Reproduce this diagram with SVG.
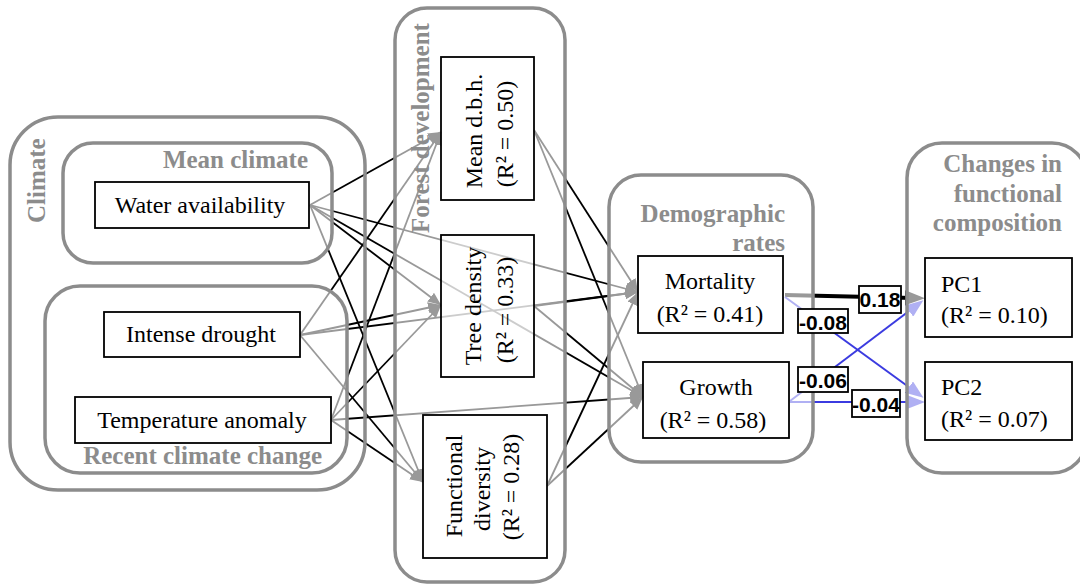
<svg xmlns="http://www.w3.org/2000/svg" width="1080" height="584" viewBox="0 0 1080 584">
<style>
.grp{fill:#fff;fill-opacity:.6;stroke:#8c8c8c;stroke-width:3.5}
.grpo{fill:none;stroke:#8c8c8c;stroke-width:3.5}
.node{fill:#fff;fill-opacity:.5;stroke:#000;stroke-width:1.8}
.lbl{fill:#fff;stroke:#000;stroke-width:1.8}
.t{font-family:"Liberation Serif","Times New Roman",serif;font-size:24px;fill:#000}
.gt{font-family:"Liberation Serif","Times New Roman",serif;font-size:25px;font-weight:bold;fill:#8c8c8c}
.et{font-family:"Liberation Sans",Arial,sans-serif;font-size:21px;font-weight:bold;fill:#000}
.e{stroke:#000;stroke-width:1.8;fill:none;marker-end:url(#ab)}
.eb{stroke:#3b3be0;stroke-width:2;fill:none;marker-end:url(#abl)}
.ek{stroke:#000;stroke-width:4;fill:none;marker-end:url(#ak)}
</style>
<defs>
<marker id="ab" markerUnits="userSpaceOnUse" markerWidth="13" markerHeight="11" refX="13" refY="5.5" orient="auto"><path d="M0,0 L13,5.5 L0,11 z" fill="#000"/></marker>
<marker id="abl" markerUnits="userSpaceOnUse" markerWidth="18" markerHeight="14" refX="10" refY="7" orient="auto"><path d="M0,0 L18,7 L0,14 z" fill="#3b3be0"/></marker>
<marker id="ak" markerUnits="userSpaceOnUse" markerWidth="20" markerHeight="15" refX="8" refY="7.5" orient="auto"><path d="M0,0 L20,7.5 L0,15 z" fill="#000"/></marker>
</defs>
<rect width="1080" height="584" fill="#fff"/>
<g id="connectors">
<line class="e" x1="310" y1="205" x2="441" y2="132"/>
<line class="e" x1="310" y1="205" x2="441" y2="305"/>
<line class="e" x1="310" y1="205" x2="423" y2="482"/>
<line class="e" x1="310" y1="205" x2="638" y2="292"/>
<line class="e" x1="310" y1="205" x2="643" y2="397"/>
<line class="e" x1="300" y1="335" x2="441" y2="132"/>
<line class="e" x1="300" y1="335" x2="441" y2="305"/>
<line class="e" x1="300" y1="335" x2="423" y2="482"/>
<line class="e" x1="300" y1="335" x2="638" y2="292"/>
<line class="e" x1="331" y1="420" x2="441" y2="132"/>
<line class="e" x1="331" y1="420" x2="441" y2="305"/>
<line class="e" x1="331" y1="420" x2="423" y2="482"/>
<line class="e" x1="331" y1="420" x2="643" y2="397"/>
<line class="e" x1="534" y1="130" x2="638" y2="292"/>
<line class="e" x1="534" y1="130" x2="643" y2="397"/>
<line class="e" x1="534" y1="306" x2="638" y2="292"/>
<line class="e" x1="534" y1="306" x2="643" y2="397"/>
<line class="e" x1="547" y1="486" x2="638" y2="292"/>
<line class="e" x1="547" y1="486" x2="643" y2="397"/>
<line class="ek" x1="785" y1="295" x2="913" y2="298"/>
<line class="eb" x1="785" y1="297" x2="917" y2="393"/>
<line class="eb" x1="790" y1="401" x2="917" y2="305"/>
<line class="eb" x1="790" y1="402" x2="917" y2="402"/>
</g>
<g id="climate">
<rect class="grpo" x="10" y="117" width="355" height="373" rx="48"/>
<text class="gt" transform="translate(45,223) rotate(-90)">Climate</text>
</g>
<g id="mean-climate">
<rect class="grp" x="63" y="143" width="269" height="120" rx="30"/>
<text class="gt" x="308" y="168" text-anchor="end">Mean climate</text>
</g>
<g id="recent-climate-change">
<rect class="grp" x="45" y="286" width="302" height="187" rx="35"/>
<text class="gt" x="322" y="464" text-anchor="end">Recent climate change</text>
</g>
<g id="forest-development">
<rect class="grp" x="395" y="8" width="170" height="574" rx="32"/>
<text class="gt" transform="translate(429,233) rotate(-90)">Forest development</text>
</g>
<g id="demographic-rates">
<rect class="grp" x="609" y="175" width="204" height="287" rx="32"/>
<text class="gt" x="785" y="222" text-anchor="end">Demographic</text>
<text class="gt" x="785" y="251" text-anchor="end">rates</text>
</g>
<g id="changes-functional-composition">
<rect class="grp" x="907" y="143" width="180" height="330" rx="35"/>
<text class="gt" x="1062" y="172" text-anchor="end">Changes in</text>
<text class="gt" x="1062" y="202" text-anchor="end">functional</text>
<text class="gt" x="1062" y="231" text-anchor="end">composition</text>
</g>
<g id="water-availability">
<rect class="node" x="95" y="182" width="214" height="46"/>
<text class="t" x="200" y="213" text-anchor="middle">Water availability</text>
</g>
<g id="intense-drought">
<rect class="node" x="104" y="312" width="196" height="45"/>
<text class="t" x="201" y="342" text-anchor="middle">Intense drought</text>
</g>
<g id="temperature-anomaly">
<rect class="node" x="75" y="397" width="256" height="46"/>
<text class="t" x="202" y="428" text-anchor="middle">Temperature anomaly</text>
</g>
<g id="mean-dbh">
<rect class="node" x="441" y="57" width="93" height="143"/>
<text class="t" text-anchor="middle" transform="translate(482,131) rotate(-90)">Mean d.b.h.</text>
<text class="t" text-anchor="middle" transform="translate(513,134) rotate(-90)">(R² = 0.50)</text>
</g>
<g id="tree-density">
<rect class="node" x="441" y="235" width="93" height="142"/>
<text class="t" text-anchor="middle" transform="translate(481,306) rotate(-90)">Tree density</text>
<text class="t" text-anchor="middle" transform="translate(513,310) rotate(-90)">(R² = 0.33)</text>
</g>
<g id="functional-diversity">
<rect class="node" x="423" y="415" width="124" height="143"/>
<text class="t" text-anchor="middle" transform="translate(462,486) rotate(-90)">Functional</text>
<text class="t" text-anchor="middle" transform="translate(490,489) rotate(-90)">diversity</text>
<text class="t" text-anchor="middle" transform="translate(519,487) rotate(-90)">(R² = 0.28)</text>
</g>
<g id="mortality">
<rect class="node" x="638" y="256" width="145" height="77"/>
<text class="t" x="710" y="289" text-anchor="middle">Mortality</text>
<text class="t" x="710" y="322" text-anchor="middle">(R² = 0.41)</text>
</g>
<g id="growth">
<rect class="node" x="643" y="362" width="146" height="76"/>
<text class="t" x="716" y="395" text-anchor="middle">Growth</text>
<text class="t" x="713" y="428" text-anchor="middle">(R² = 0.58)</text>
</g>
<g id="pc1">
<rect class="node" x="925" y="258" width="147" height="79"/>
<text class="t" x="941" y="292">PC1</text>
<text class="t" x="941" y="323">(R² = 0.10)</text>
</g>
<g id="pc2">
<rect class="node" x="925" y="362" width="147" height="78"/>
<text class="t" x="941" y="395">PC2</text>
<text class="t" x="941" y="427">(R² = 0.07)</text>
</g>
<g id="edge-labels">
<rect class="lbl" x="859" y="286" width="42" height="27"/>
<text class="et" x="880" y="307" text-anchor="middle">0.18</text>
<rect class="lbl" x="798" y="309" width="50" height="24"/>
<text class="et" x="823" y="330" text-anchor="middle">-0.08</text>
<rect class="lbl" x="798" y="367" width="50" height="25"/>
<text class="et" x="823" y="388" text-anchor="middle">-0.06</text>
<rect class="lbl" x="852" y="390" width="48" height="27"/>
<text class="et" x="876" y="412" text-anchor="middle">-0.04</text>
</g>
</svg>
